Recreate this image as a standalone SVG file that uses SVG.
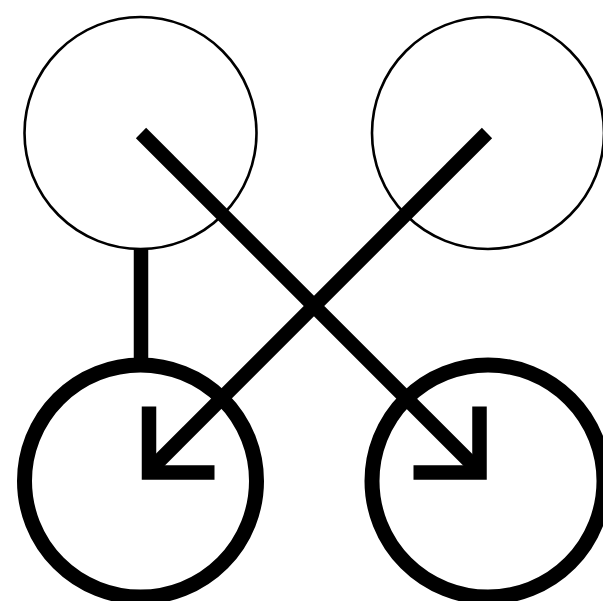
<svg xmlns="http://www.w3.org/2000/svg" width="603" height="601" viewBox="0 0 603 601">
<style>
.thin{fill:none;stroke:#000;stroke-width:2.6}
.thick{fill:none;stroke:#000;stroke-width:15}
.edge{fill:none;stroke:#000;stroke-width:14.5;stroke-linecap:butt;stroke-linejoin:miter}
</style>
<rect width="603" height="601" fill="#fff"/>
<g id="node-tl"><circle class="thin" cx="140.5" cy="133" r="116"/></g>
<g id="node-tr"><circle class="thin" cx="488" cy="133" r="116"/></g>
<g id="node-bl"><circle class="thick" cx="140.5" cy="481" r="116"/></g>
<g id="node-br"><circle class="thick" cx="488" cy="481" r="116"/></g>
<g id="connectors">
<line class="edge" x1="141" y1="249" x2="141" y2="359"/>
<line class="edge" x1="141" y1="133" x2="477" y2="469"/>
<polyline class="edge" points="479.5,406.5 479.5,472.5 413.5,472.5"/>
<line class="edge" x1="487" y1="133" x2="152" y2="468"/>
<polyline class="edge" points="149,406.5 149,472.5 214.5,472.5"/>
</g>
</svg>
